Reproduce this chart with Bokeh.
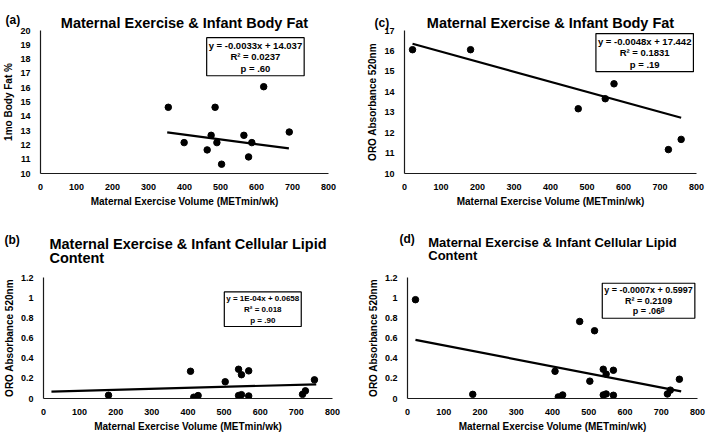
from bokeh.plotting import figure
from bokeh.models import Label, Title, Range1d, FixedTicker, NumeralTickFormatter
from bokeh.layouts import column, row
from bokeh.embed import file_html
from bokeh.resources import INLINE

FONT = "Liberation Sans"

# ---------------- data ----------------
x_ticks = [0, 100, 200, 300, 400, 500, 600, 700, 800]

# (a) body fat (1mo) vs exercise
a_x = [355, 399, 463, 474, 485, 490, 503, 565, 578, 587, 620, 691]
a_y = [14.63, 12.16, 11.65, 12.67, 14.63, 12.16, 10.65, 12.67, 11.16, 12.16, 16.07, 12.9]
a_fit_x = [352, 690]
a_fit_y = [12.87, 11.76]
a_text = "y = -0.0033x + 14.037\nR² = 0.0237\np = .60"

# (c) body fat vs exercise
c_x = [22, 181, 476, 550, 574, 731, 723, 758]
c_y = [16.06, 16.06, 13.17, 13.66, 14.39, 15.62, 11.17, 11.67]
c_fit_x = [22, 758]
c_fit_y = [16.35, 12.73]
c_text = "y = -0.0048x + 17.442\nR² = 0.1831\np = .19"

# (b) cellular lipid content
b_x = [180, 407, 416, 428, 503, 540, 540, 548, 548, 568, 568, 717, 725, 750]
b_y = [0.032, 0.27, 0.013, 0.029, 0.166, 0.29, 0.029, 0.236, 0.038, 0.274, 0.025, 0.041, 0.076, 0.185]
b_fit_x = [22, 755]
b_fit_y = [0.068, 0.141]
b_text = "y = 1E-04x + 0.0658\nR² = 0.018\np = .90"

# (d) cellular lipid content
d_x = [22, 180, 407, 416, 428, 475, 503, 516, 540, 540, 548, 548, 568, 568, 717, 725, 750]
d_y = [0.98, 0.041, 0.27, 0.016, 0.035, 0.764, 0.172, 0.672, 0.29, 0.035, 0.242, 0.045, 0.28, 0.032, 0.045, 0.083, 0.191]
d_fit_x = [22, 755]
d_fit_y = [0.582, 0.071]
d_text = "y = -0.0007x + 0.5997\nR² = 0.2109\np = .06ᵝ"

X_LABEL = "Maternal Exercise Volume (METmin/wk)"


def make_panel(w, h, borders, yr, yticks, ylabel, xs, ys, fit_x, fit_y, eq_text, eq_pos, eq_size,
               eq_lh, title, title_size, title_off, title_so, spacer_so, tag, tag_off, tag_so,
               yfmt=None):
    left, right, top, bottom = borders
    p = figure(width=w, height=h, output_backend="svg", toolbar_location=None,
               x_range=Range1d(0, 800), y_range=Range1d(*yr),
               min_border_left=left, min_border_right=right,
               min_border_top=top, min_border_bottom=bottom)
    p.outline_line_color = None
    p.grid.visible = False
    p.background_fill_color = "white"
    p.border_fill_color = "white"
    for ax in (p.xaxis[0], p.yaxis[0]):
        ax.axis_line_color = "#1a1a1a"
        ax.axis_line_width = 1.2
        ax.major_tick_line_color = None
        ax.minor_tick_line_color = None
        ax.major_label_text_font = FONT
        ax.major_label_text_font_style = "bold"
        ax.major_label_text_font_size = "9px"
        ax.major_label_text_color = "black"
        ax.axis_label_text_font = FONT
        ax.axis_label_text_font_style = "bold"
        ax.axis_label_text_font_size = "10px"
        ax.axis_label_text_color = "black"
        ax.major_label_standoff = 4
        ax.axis_label_standoff = 3
    p.xaxis.ticker = FixedTicker(ticks=x_ticks)
    p.yaxis.ticker = FixedTicker(ticks=yticks)
    if yfmt:
        p.yaxis.formatter = NumeralTickFormatter(format=yfmt)
    p.xaxis.axis_label = X_LABEL
    p.yaxis.axis_label = ylabel

    # trend line
    p.line(x=fit_x, y=fit_y, line_color="black", line_width=2.2)
    p.scatter(x=xs, y=ys, size=6.5, marker="circle", fill_color="black", line_color="black")

    # equation box
    ex, ey = eq_pos
    p.add_layout(Label(x=ex, y=ey, text=eq_text, text_align="center", text_baseline="top",
                       text_font=FONT, text_font_style="bold", text_font_size=eq_size,
                       text_line_height=eq_lh, text_color="black",
                       border_line_color="black", border_line_width=1.2,
                       background_fill_color="white", padding=2))

    # invisible spacer (closest to the frame) to lift the title
    if spacer_so is not None:
        p.add_layout(Title(text=".", standoff=spacer_so, text_font=FONT, text_font_size="8px",
                           text_color="white", text_alpha=0.0), "above")
    p.add_layout(Title(text=title, align="center", offset=title_off, standoff=title_so,
                       text_font=FONT, text_font_style="bold", text_font_size=title_size,
                       text_line_height=0.9, text_color="black"), "above")
    p.add_layout(Title(text=tag, align="left", offset=tag_off, standoff=tag_so,
                       text_font=FONT, text_font_style="bold", text_font_size="12px",
                       text_color="black"), "above")
    return p


pa = make_panel(354, 217, (36, 26, 30, 44), (10, 20), list(range(10, 21)), "1mo Body Fat %",
                a_x, a_y, a_fit_x, a_fit_y, a_text, (597, 19.5), "9.5px", 1.05,
                "Maternal Exercise & Infant Body Fat", "14.5px", -15, 0, 0, "(a)", -35, -28)
pc = make_panel(355, 217, (50, 13, 30, 44), (10, 17), list(range(10, 18)), "ORO Absorbance 520nm",
                c_x, c_y, c_fit_x, c_fit_y, c_text, (658, 16.85), "9.5px", 1.05,
                "Maternal Exercise & Infant Body Fat", "14.5px", -10, 0, -2, "(c)", -30, -34)
pb = make_panel(354, 217, (39, 22, 60, 31), (0, 1.2), [0, 0.2, 0.4, 0.6, 0.8, 1.0, 1.2],
                "ORO Absorbance 520nm", b_x, b_y, b_fit_x, b_fit_y, b_text, (607, 1.057), "8px", 1.2,
                "Maternal Exercise & Infant Cellular Lipid\nContent", "14.5px", -8, 22, None,
                "(b)", -39, -47, yfmt="0.[0]")
pd_ = make_panel(355, 217, (53, 12, 60, 31), (0, 1.2), [0, 0.2, 0.4, 0.6, 0.8, 1.0, 1.2],
                 "ORO Absorbance 520nm", d_x, d_y, d_fit_x, d_fit_y, d_text, (665, 1.143), "9px", 1.05,
                 "Maternal Exercise & Infant Cellular Lipid\nContent", "13px", -2, 29, None,
                 "(d)", -8, -57, yfmt="0.[0]")

layout = column(row(pa, pc), row(pb, pd_))
open("out.html", "w").write(file_html(layout, INLINE))
